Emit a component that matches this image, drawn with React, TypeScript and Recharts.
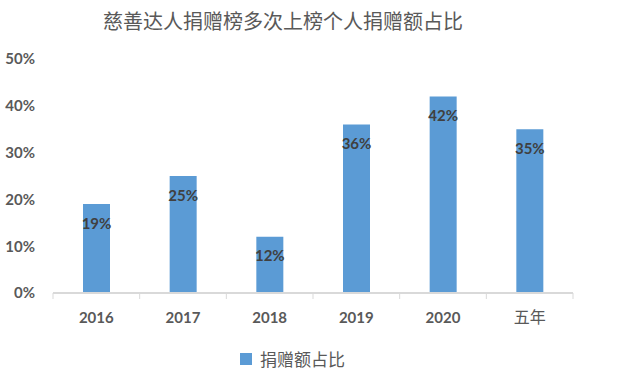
import React from "react";
import { BarChart, Bar, XAxis, YAxis, LabelList } from "recharts";

document.body.style.margin = "0";

const categories = ["2016", "2017", "2018", "2019", "2020", "五年"];
const shares = [19, 25, 12, 36, 42, 35];
const yTicks = [0, 10, 20, 30, 40, 50];

const data = categories.map((name, i) => ({ name, share: shares[i] }));

const BAR_COLOR = "#5b9bd5";
const TEXT = "#595959";
const NUM_FONT = "Lato, 'Open Sans', sans-serif";
const CJK_FONT = "'Noto Sans CJK SC', sans-serif";
const BAND = 520 / categories.length;

function XTick(props: any) {
  const { x, y, payload, index } = props;
  const cjk = /[^\x00-\x7f]/.test(payload.value);
  return (
    <g>
      <line x1={x - BAND / 2} x2={x - BAND / 2} y1={y - 8} y2={y - 2} stroke="#d9d9d9" />
      {index === categories.length - 1 && (
        <line x1={x + BAND / 2} x2={x + BAND / 2} y1={y - 8} y2={y - 2} stroke="#d9d9d9" />
      )}
      <text
        x={x}
        y={y + 22}
        textAnchor="middle"
        fill={TEXT}
        fontFamily={cjk ? CJK_FONT : NUM_FONT}
        fontWeight={cjk ? 400 : 700}
        fontSize={cjk ? 16 : 15}
      >
        {payload.value}
      </text>
    </g>
  );
}

export default function App() {
  return (
    <div style={{ position: "relative", width: 620, height: 381, background: "#fff" }}>
      <div
        style={{
          position: "absolute",
          top: 6,
          left: 0,
          width: 566,
          textAlign: "center",
          fontFamily: CJK_FONT,
          fontSize: 20,
          color: TEXT,
        }}
      >
        慈善达人捐赠榜多次上榜个人捐赠额占比
      </div>
      <BarChart
        width={620}
        height={381}
        data={data}
        margin={{ top: 59, right: 47, bottom: 58, left: 0 }}
        barSize={27}
      >
        <XAxis
          dataKey="name"
          stroke="#d9d9d9"
          strokeWidth={2}
          tickLine={false}
          tick={<XTick />}
          height={30}
          interval={0}
        />
        <YAxis
          domain={[0, 50]}
          ticks={yTicks}
          width={53}
          axisLine={false}
          tickLine={false}
          tickMargin={12}
          tickFormatter={(v: number) => `${v}%`}
          tick={{ fill: TEXT, fontSize: 15, fontWeight: 700, fontFamily: NUM_FONT }}
        />
        <Bar dataKey="share" fill={BAR_COLOR} isAnimationActive={false}>
          <LabelList
            dataKey="share"
            position="insideTop"
            offset={14}
            formatter={(v: any) => `${v}%`}
            style={{ fill: "#404040", fontSize: 15, fontWeight: 700, fontFamily: NUM_FONT }}
          />
        </Bar>
      </BarChart>
      <div
        style={{
          position: "absolute",
          top: 346,
          left: 240,
          display: "flex",
          alignItems: "center",
          fontFamily: CJK_FONT,
          fontSize: 17,
          color: TEXT,
        }}
      >
        <span style={{ display: "inline-block", width: 12, height: 12, background: BAR_COLOR, marginRight: 8 }} />
        捐赠额占比
      </div>
    </div>
  );
}
